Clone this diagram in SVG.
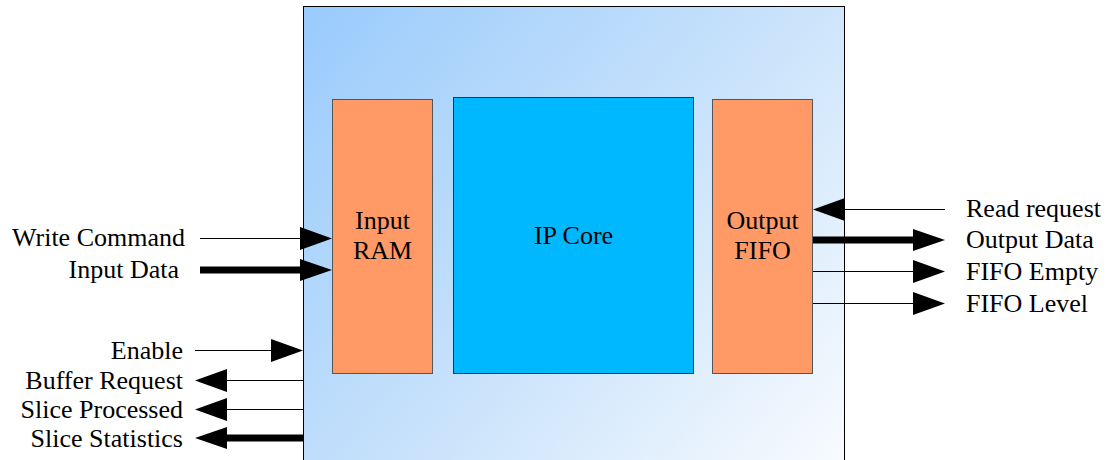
<svg xmlns="http://www.w3.org/2000/svg" width="1109" height="460" viewBox="0 0 1109 460">
<defs>
<linearGradient id="bg" gradientUnits="userSpaceOnUse" x1="303" y1="6" x2="844" y2="460">
<stop offset="0" stop-color="#99cbfc"/>
<stop offset="0.5" stop-color="#c6e1fb"/>
<stop offset="1" stop-color="#f8fbfe"/>
</linearGradient>
</defs>
<style>
.lbl{font-family:"Liberation Serif","Times New Roman",serif;font-size:26px;fill:#000}
.blk{stroke:#555;stroke-width:1}
.thin{stroke:#000;stroke-width:1;fill:none}
.thick{stroke:#000;stroke-width:7;fill:none}
.head{fill:#000}
</style>
<rect width="1109" height="460" fill="#fff"/>
<g id="fpga">
<rect x="303.5" y="6.5" width="541" height="470" fill="url(#bg)" stroke="#000" stroke-width="1"/>
</g>
<g id="input-ram">
<rect x="332.5" y="99.5" width="100" height="274" fill="#ff9966" class="blk"/>
<text class="lbl" x="382.5" y="229" text-anchor="middle">Input</text>
<text class="lbl" x="382.5" y="259" text-anchor="middle">RAM</text>
</g>
<g id="ip-core">
<rect x="453.5" y="97.5" width="240" height="276" fill="#00b8ff" stroke="#333" stroke-width="1"/>
<text class="lbl" x="573.5" y="244" text-anchor="middle">IP Core</text>
</g>
<g id="output-fifo">
<rect x="712.5" y="99.5" width="100" height="274" fill="#ff9966" class="blk"/>
<text class="lbl" x="762.5" y="229" text-anchor="middle">Output</text>
<text class="lbl" x="762.5" y="259" text-anchor="middle">FIFO</text>
</g>
<g id="connectors">
<line class="thin" x1="200" y1="238.5" x2="302" y2="238.5"/>
<polygon class="head" points="300,227 332,238.5 300,250"/>
<line class="thick" x1="200" y1="270" x2="302" y2="270"/>
<polygon class="head" points="300,259 332,270 300,281"/>
<line class="thin" x1="195" y1="350.5" x2="273" y2="350.5"/>
<polygon class="head" points="271,339 303,350.5 271,362"/>
<line class="thin" x1="225" y1="380.5" x2="303" y2="380.5"/>
<polygon class="head" points="227,369 195,380.5 227,392"/>
<line class="thin" x1="225" y1="409.5" x2="303" y2="409.5"/>
<polygon class="head" points="227,398 195,409.5 227,421"/>
<line class="thick" x1="225" y1="438" x2="303" y2="438"/>
<polygon class="head" points="227,427 195,438 227,449"/>
<line class="thin" x1="843" y1="209.5" x2="945" y2="209.5"/>
<polygon class="head" points="845,198 813,209.5 845,221"/>
<line class="thick" x1="813" y1="240" x2="915" y2="240"/>
<polygon class="head" points="913,229 945,240 913,251"/>
<line class="thin" x1="813" y1="271.5" x2="915" y2="271.5"/>
<polygon class="head" points="913,260 945,271.5 913,283"/>
<line class="thin" x1="813" y1="303.5" x2="915" y2="303.5"/>
<polygon class="head" points="913,292 945,303.5 913,315"/>
</g>
<g id="labels">
<text class="lbl" x="185" y="246" text-anchor="end">Write Command</text>
<text class="lbl" x="179" y="278" text-anchor="end">Input Data</text>
<text class="lbl" x="183" y="359" text-anchor="end">Enable</text>
<text class="lbl" x="183" y="389" text-anchor="end">Buffer Request</text>
<text class="lbl" x="183" y="418" text-anchor="end">Slice Processed</text>
<text class="lbl" x="183" y="447" text-anchor="end">Slice Statistics</text>
<text class="lbl" x="966" y="217">Read request</text>
<text class="lbl" x="966" y="248">Output Data</text>
<text class="lbl" x="966" y="280">FIFO Empty</text>
<text class="lbl" x="966" y="312">FIFO Level</text>
</g>
</svg>
